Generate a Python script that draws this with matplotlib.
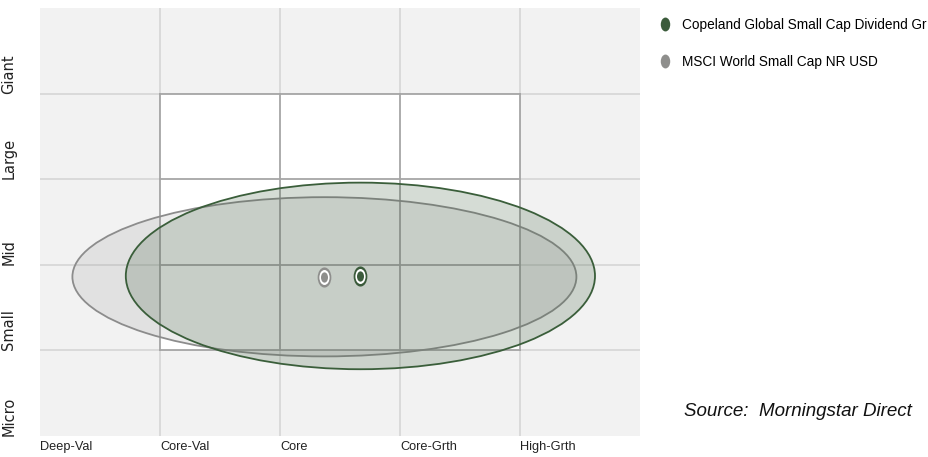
import matplotlib
matplotlib.use("Agg")
import matplotlib.pyplot as plt
from matplotlib.patches import Ellipse, Rectangle
from matplotlib.path import Path
from matplotlib.transforms import Affine2D
from matplotlib.lines import Line2D

# Style box axes
style_labels = ["Deep-Val", "Core-Val", "Core", "Core-Grth", "High-Grth"]
size_labels = ["Micro", "Small", "Mid", "Large", "Giant"]

# Ownership zones: centroid and zone extent (in style-box units)
series_names = ["Copeland Global Small Cap Dividend Gr", "MSCI World Small Cap NR USD"]
centroid_x = [2.67, 2.37]
centroid_y = [1.87, 1.86]
zone_width = [3.91, 4.20]
zone_height = [2.18, 1.86]

edge_colors = ["#3a5e3a", "#8c8c8c"]
fill_colors = [(0.27, 0.39, 0.27, 0.225), (0.50, 0.50, 0.50, 0.14)]
dot_colors = ["#3b5b3b", "#8e8e8c"]

SANS = "Liberation Sans"

fig = plt.figure(figsize=(9.29, 4.57), dpi=100)
ax = fig.add_axes([40 / 929, 21 / 457, 600 / 929, 428 / 457])
ax.set_xlim(0, len(style_labels))
ax.set_ylim(0, len(size_labels))
ax.set_facecolor("#f2f2f2")
for sp in ax.spines.values():
    sp.set_visible(False)

# light grid over the whole box
for v in range(1, 5):
    ax.axvline(v, color="#dadada", lw=1.4, zorder=1)
    ax.axhline(v, color="#dadada", lw=1.4, zorder=1)

# white inner 3x3 region with darker cell borders
ax.add_patch(Rectangle((1, 1), 3, 3, facecolor="white", edgecolor="none", zorder=1.5))
for v in range(1, 5):
    ax.plot([v, v], [1, 4], color="#a6a6a6", lw=1.3, zorder=2)
    ax.plot([1, 4], [v, v], color="#a6a6a6", lw=1.3, zorder=2)

# ownership zones (benchmark underneath, fund on top)
for i in [1, 0]:
    ax.add_patch(Ellipse((centroid_x[i], centroid_y[i]), zone_width[i], zone_height[i],
                         facecolor=fill_colors[i], edgecolor=edge_colors[i], lw=1.3,
                         zorder=3 + (1 - i)))

# centroid markers: coloured oval with a white ring
oval = Path.unit_circle().transformed(Affine2D().scale(0.68, 1.0))
for i in [1, 0]:
    z = 6 + (1 - i)
    ax.scatter([centroid_x[i]], [centroid_y[i]], s=14.5 ** 2, marker=oval,
               color=dot_colors[i], linewidths=0, zorder=z)
    ax.scatter([centroid_x[i]], [centroid_y[i]], s=10.8 ** 2, marker=oval,
               color="white", linewidths=0, zorder=z)
    ax.scatter([centroid_x[i]], [centroid_y[i]], s=7.4 ** 2, marker=oval,
               color=dot_colors[i], linewidths=0, zorder=z)

# tick labels
ax.set_xticks(range(len(style_labels)))
ax.set_xticklabels(style_labels, ha="left", fontfamily=SANS, fontsize=9.2, color="#222222")
ax.set_yticks(range(len(size_labels)))
ax.set_yticklabels(size_labels, rotation=90, va="bottom", ha="right",
                   fontfamily="DejaVu Sans", fontsize=10.5, color="#222222")
ax.tick_params(axis="x", length=0, pad=3.5)
ax.tick_params(axis="y", length=0, pad=17)

# legend
handles = [Line2D([], [], marker=oval, ls="", markersize=10, color=c, markeredgewidth=0)
           for c in dot_colors]
fig.legend(handles, series_names, loc="upper left", bbox_to_anchor=(657 / 929, 1 - 18 / 457),
           frameon=False, prop={"family": SANS, "size": 9.8}, handlelength=1.2,
           handletextpad=0.66, labelspacing=1.7, borderpad=0, borderaxespad=0)

fig.text(684 / 929, 1 - 411 / 457, "Source:  Morningstar Direct", fontfamily=SANS,
         style="italic", fontsize=13.5, va="center", ha="left", color="#111111")

fig.savefig("out.png", dpi=100)
